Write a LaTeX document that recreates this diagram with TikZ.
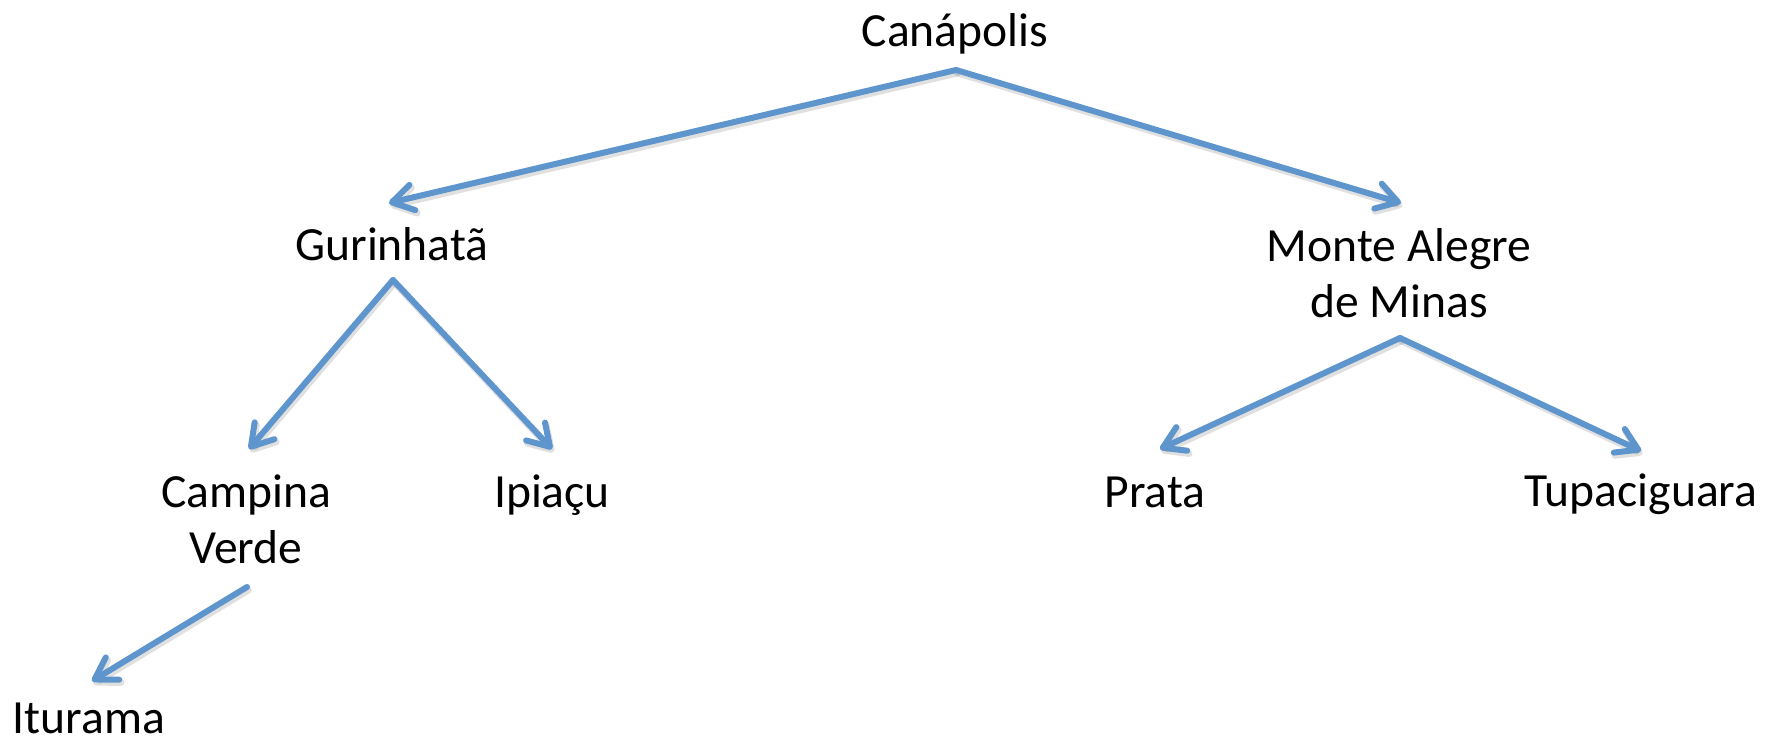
\documentclass[tikz,border=0pt]{standalone}
\usepackage{fontspec}
\setmainfont{Carlito}
\usetikzlibrary{arrows.meta,calc}
\definecolor{arrblue}{RGB}{94,149,204}
\tikzset{
  lbl/.style={anchor=base,inner sep=0pt,align=center,font=\fontsize{23.8}{27.6}\selectfont},
  arr/.style={draw=arrblue,line width=3pt,line cap=round,line join=round,
    -{Straight Barb[length=10.5pt,width=13pt,round]}},
  shd/.style={draw=black,opacity=0.12,line width=3.4pt,line cap=round,line join=round,
    -{Straight Barb[length=10.5pt,width=13pt,round]}}
}
\begin{document}
\begin{tikzpicture}[x=0.5pt,y=-0.5pt]
\useasboundingbox (0,0) rectangle (1767,743);
\node[lbl] (can) at (955,47) {Canápolis};
\node[lbl] (gur) at (392,261) {Gurinhatã};
\node[lbl] (mam) at (1399,317) {Monte Alegre\\de Minas};
\node[lbl] (cv)  at (246,563) {Campina\\Verde};
\node[lbl] (ipi) at (552,507) {Ipiaçu};
\node[lbl] (pra) at (1155,507) {Prata};
\node[lbl] (tup) at (1641,506) {Tupaciguara};
\node[lbl] (itu) at (89,733) {Iturama};
% shadows
\foreach \a/\oa/\b/\ob in {can/{1,23}/gur/{-3,-58}, can/{1,23}/mam/{2,-114},
  gur/{1,19}/cv/{3,-114}, gur/{1,19}/ipi/{0,-58},
  mam/{1,21}/pra/{5,-58}, mam/{1,21}/tup/{0,-55}, cv/{1,24}/itu/{3,-52}}{
  \draw[shd] ($(\a.base)+(\oa)+(1.5,3)$) -- ($(\b.base)+(\ob)+(1.5,3)$);
}
\draw[arr] ($(can.base)+(1,23)$) -- ($(gur.base)+(-3,-58)$);
\draw[arr] ($(can.base)+(1,23)$) -- ($(mam.base)+(2,-114)$);
\draw[arr] ($(gur.base)+(1,19)$) -- ($(cv.base)+(3,-114)$);
\draw[arr] ($(gur.base)+(1,19)$) -- ($(ipi.base)+(0,-58)$);
\draw[arr] ($(mam.base)+(1,21)$) -- ($(pra.base)+(5,-58)$);
\draw[arr] ($(mam.base)+(1,21)$) -- ($(tup.base)+(0,-55)$);
\draw[arr] ($(cv.base)+(1,24)$) -- ($(itu.base)+(3,-52)$);
\end{tikzpicture}
\end{document}
